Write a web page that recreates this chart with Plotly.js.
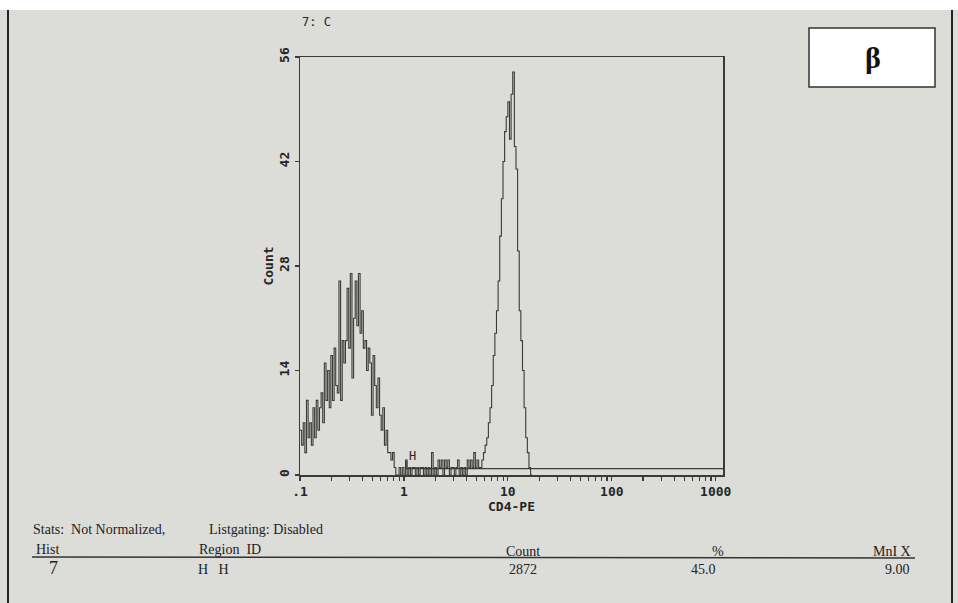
<!DOCTYPE html>
<html><head><meta charset="utf-8">
<script src="https://cdn.plot.ly/plotly-3.0.1.min.js"></script>
<style>html,body{margin:0;padding:0;background:#fff;} #chart{width:958px;height:603px;}</style>
</head><body><div id="chart"></div>
<script>
// ---- data ----
const channelsPerDecade = 64;
const firstChannelLog = -1;      // channel 0 starts at 0.1
const counts = [
  6,4,7,3,10,5,7,4,9,5,10,6,9,11,7,15,10,14,9,16,
  10,17,12,11,26,10,18,15,18,25,17,27,13,21,26,20,27,19,22,17,
  18,14,17,15,8,16,12,9,13,8,6,9,4,6,3,3,2,3,1,0,
  0,1,0,1,0,2,0,1,0,1,1,0,1,0,1,1,0,1,0,1,
  0,3,0,1,0,2,1,2,0,2,1,2,0,1,1,0,1,2,0,1,
  0,1,0,2,1,2,1,3,1,2,1,1,2,3,4,5,7,9,12,16,
  19,22,26,32,37,42,46,48,50,45,51,54,44,41,30,22,18,14,9,5,
  3,1,0
];
const xTickVals = [0.1,0.2,0.3,0.4,0.5,0.6,0.7,0.8,0.9,1,2,3,4,5,6,7,8,9,10,20,30,40,50,60,70,80,90,100,200,300,400,500,600,700,800,900,1000];
const xMajorLabels = {0.1:'.1', 1:'1', 10:'10', 100:'100', 1000:'1000'};
const yTickVals = [0,14,28,42,56];
const yTickText = ['0','14','28','42','56'];
const regionHBounds = [1.05, 1175];
const regionHLevel = 0.85;
const regionHLabel = 'H';
const regionHLabelPos = [1.22, 2.5];
const histTitle = '7: C';
const statsLine1 = ['Stats:  Not Normalized,', 'Listgating: Disabled'];
const statsHeaders = ['Hist', 'Region  ID', 'Count', '%', 'MnI X'];
const statsRow = ['7', 'H   H', '2872', '45.0', '9.00'];
const panelLabel = 'β';

// ---- build ----
const xs = [], ys = [];
for (let k = 0; k <= counts.length; k++) {
  xs.push(Math.pow(10, firstChannelLog + k / channelsPerDecade));
  ys.push(k < counts.length ? counts[k] : 0);
}
const xTickText = xTickVals.map(v => xMajorLabels[v] !== undefined ? xMajorLabels[v] : '');

const L = 300, R = 723, T = 57, B = 475, W = 958, H = 603;
const px = x => (x - L) / (R - L);
const py = y => (B - y) / (B - T);

const mono = {family: 'DejaVu Sans Mono, monospace', size: 13, color: '#262626', weight: 700};
const serif = {family: 'Liberation Serif, serif', size: 14, color: '#222'};
const ink = '#3a3a3a';

const traces = [
  {x: xs, y: ys, type: 'scatter', mode: 'lines', line: {shape: 'hv', color: ink, width: 1.1}, hoverinfo: 'skip'},
  {x: [regionHBounds[0], regionHBounds[0], regionHBounds[1]], y: [regionHLevel + 1, regionHLevel, regionHLevel],
   type: 'scatter', mode: 'lines', line: {color: ink, width: 1.2}, hoverinfo: 'skip'}
];

const ann = (x, y, text, font, xanchor) => ({xref: 'paper', yref: 'paper', x: px(x), y: py(y), text: text,
  showarrow: false, font: font, xanchor: xanchor || 'left', yanchor: 'middle'});

const annotations = [
  {xref: 'x', yref: 'y', x: Math.log10(regionHLabelPos[0]), y: regionHLabelPos[1], text: regionHLabel, showarrow: false,
   font: {family: 'DejaVu Sans Mono, monospace', size: 12, color: '#262626'}, xanchor: 'center', yanchor: 'middle'},
  ann(300, 22, histTitle, {family: 'DejaVu Sans Mono, monospace', size: 12, color: '#262626'}),
  ann(31, 529, statsLine1[0], serif),
  ann(207, 529, statsLine1[1], serif),
  ann(34, 549, statsHeaders[0], serif),
  ann(197, 549, statsHeaders[1], serif),
  ann(523, 551, statsHeaders[2], serif, 'center'),
  ann(718, 551, statsHeaders[3], serif, 'center'),
  ann(913, 551, statsHeaders[4], serif, 'right'),
  ann(47, 568, statsRow[0], {family: 'Liberation Serif, serif', size: 18, color: '#222'}),
  ann(196, 569, statsRow[1], serif),
  ann(523, 569, statsRow[2], serif, 'center'),
  ann(718, 569, statsRow[3], serif, 'right'),
  ann(912, 569, statsRow[4], serif, 'right'),
  ann(873, 58, panelLabel, {family: 'Liberation Serif, serif', size: 30, color: '#111', weight: 'bold'}, 'center')
];

const shapes = [
  {type: 'rect', xref: 'paper', yref: 'paper', x0: px(-5), x1: px(W + 5), y0: py(10), y1: py(-5), fillcolor: '#ffffff', line: {width: 0}, layer: 'below'},
  {type: 'line', xref: 'paper', yref: 'paper', x0: px(8), x1: px(8), y0: py(10), y1: py(H + 2), line: {color: '#222', width: 2}},
  {type: 'line', xref: 'paper', yref: 'paper', x0: px(952), x1: px(952), y0: py(10), y1: py(H + 2), line: {color: '#222', width: 2}},
  {type: 'rect', xref: 'paper', yref: 'paper', x0: px(809), x1: px(935), y0: py(87), y1: py(28), fillcolor: '#ffffff', line: {color: '#333', width: 1.5}},
  {type: 'line', xref: 'paper', yref: 'paper', x0: px(32), x1: px(915), y0: py(557), y1: py(558), line: {color: '#333', width: 1.5}}
];

const axisCommon = {showgrid: false, zeroline: false, showline: true, mirror: true, linecolor: ink, linewidth: 1.5,
  ticks: 'outside', ticklen: 4, tickwidth: 1.2, tickcolor: ink, tickfont: mono, fixedrange: true};

const layout = {
  width: W, height: H,
  margin: {l: L, r: W - R, t: T, b: H - B, pad: 0},
  paper_bgcolor: '#dcdcd8', plot_bgcolor: '#dcdcd8',
  showlegend: false,
  xaxis: Object.assign({}, axisCommon, {type: 'log', range: [-1, 3.07], tickmode: 'array', tickvals: xTickVals, ticktext: xTickText,
    tickangle: 0, title: {text: 'CD4-PE', font: mono, standoff: 0}}),
  yaxis: Object.assign({}, axisCommon, {range: [0, 56], tickmode: 'array', tickvals: yTickVals, ticktext: yTickText,
    tickangle: -90, title: {text: 'Count', font: mono, standoff: 0}}),
  annotations: annotations,
  shapes: shapes
};

Plotly.newPlot('chart', traces, layout, {displayModeBar: false, staticPlot: true});
</script></body></html>
